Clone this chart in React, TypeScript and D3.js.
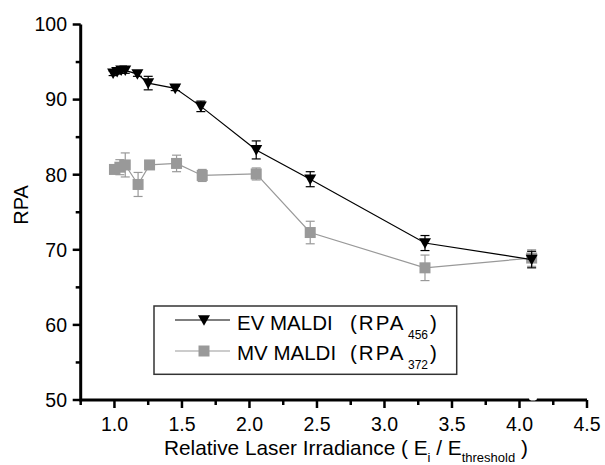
import React from "react";
import * as d3 from "d3";

const evX = [0.99, 1.02, 1.05, 1.08, 1.17, 1.25, 1.45, 1.64, 2.05, 2.45, 3.30, 4.09];
const evY = [93.5, 93.7, 93.9, 93.9, 93.4, 92.2, 91.5, 89.1, 83.3, 79.4, 70.9, 68.7];
const evErr = [0.3, 0.3, 0.4, 0.4, 0.3, 0.9, 0.3, 0.7, 1.2, 1.0, 1.0, 1.1];

const mvX = [1.0, 1.04, 1.08, 1.175, 1.26, 1.46, 1.65, 2.05, 2.45, 3.3, 4.09];
const mvY = [80.7, 81.0, 81.3, 78.7, 81.3, 81.5, 79.9, 80.1, 72.3, 67.6, 68.9];
const mvErr = [0.5, 1.0, 1.6, 1.6, 0.3, 1.1, 0.8, 0.8, 1.5, 1.7, 1.1];

const xMajor = [1.0, 1.5, 2.0, 2.5, 3.0, 3.5, 4.0, 4.5];
const xMinor = [0.75, 1.25, 1.75, 2.25, 2.75, 3.25, 3.75, 4.25];
const yMajor = [50, 60, 70, 80, 90, 100];
const yMinor = [55, 65, 75, 85, 95];

const legendNames = ["EV MALDI", "MV MALDI"];
const legendSubs = ["456", "372"];

const FONT = "'Liberation Sans', Arial, sans-serif";
const GRAY = "#999999";

export default function App() {
  const x = d3.scaleLinear().domain([0.75, 4.5]).range([80.7, 587]);
  const y = d3.scaleLinear().domain([50, 100]).range([400, 24.5]);
  const line = d3.line<[number, number]>().x((d) => x(d[0])).y((d) => y(d[1]));
  const evPts: [number, number][] = evX.map((v, i) => [v, evY[i]]);
  const mvPts: [number, number][] = mvX.map((v, i) => [v, mvY[i]]);
  const tri = "M-6,-4.8L6,-4.8L0,5.8Z";

  return (
    <div style={{ position: "absolute", left: 0, top: 0 }}>
      <svg width={605} height={465} style={{ display: "block", background: "#fff" }} fontFamily={FONT}>
        {/* MV series */}
        <path d={line(mvPts) || ""} fill="none" stroke={GRAY} strokeWidth={1.2} />
        {mvPts.map((p, i) => (
          <g key={"mve" + i} stroke={GRAY} strokeWidth={1.2}>
            <line x1={x(p[0])} x2={x(p[0])} y1={y(p[1] - mvErr[i])} y2={y(p[1] + mvErr[i])} />
            <line x1={x(p[0]) - 4.5} x2={x(p[0]) + 4.5} y1={y(p[1] + mvErr[i])} y2={y(p[1] + mvErr[i])} />
            <line x1={x(p[0]) - 4.5} x2={x(p[0]) + 4.5} y1={y(p[1] - mvErr[i])} y2={y(p[1] - mvErr[i])} />
          </g>
        ))}
        {mvPts.map((p, i) => (
          <rect key={"mvm" + i} x={x(p[0]) - 5.5} y={y(p[1]) - 5.5} width={11} height={11} fill={GRAY} />
        ))}
        {/* EV series */}
        <path d={line(evPts) || ""} fill="none" stroke="#000" strokeWidth={1.2} />
        {evPts.map((p, i) => (
          <g key={"eve" + i} stroke="#000" strokeWidth={1.2}>
            <line x1={x(p[0])} x2={x(p[0])} y1={y(p[1] - evErr[i])} y2={y(p[1] + evErr[i])} />
            <line x1={x(p[0]) - 4.5} x2={x(p[0]) + 4.5} y1={y(p[1] + evErr[i])} y2={y(p[1] + evErr[i])} />
            <line x1={x(p[0]) - 4.5} x2={x(p[0]) + 4.5} y1={y(p[1] - evErr[i])} y2={y(p[1] - evErr[i])} />
          </g>
        ))}
        {evPts.map((p, i) => (
          <path key={"evm" + i} d={tri} transform={`translate(${x(p[0])},${y(p[1])})`} fill="#000" />
        ))}

        {/* Axes */}
        <line x1={x(0.75)} x2={x(4.5)} y1={y(50)} y2={y(50)} stroke="#000" strokeWidth={3} />
        <line x1={x(0.75)} x2={x(0.75)} y1={y(50) + 1.5} y2={y(100)} stroke="#000" strokeWidth={3} />
        <ellipse cx={533} cy={398.5} rx={4} ry={2} fill="#fff" />
        {xMajor.map((t) => (
          <g key={"xM" + t}>
            <line x1={x(t)} x2={x(t)} y1={y(50)} y2={y(50) + 8} stroke="#000" strokeWidth={2.5} />
            <text x={x(t)} y={431} textAnchor="middle" fontSize={19.5}>{d3.format(".1f")(t)}</text>
          </g>
        ))}
        {xMinor.map((t) => (
          <line key={"xm" + t} x1={x(t)} x2={x(t)} y1={y(50)} y2={y(50) + 5} stroke="#000" strokeWidth={2.5} />
        ))}
        {yMajor.map((t) => (
          <g key={"yM" + t}>
            <line x1={x(0.75) - 8} x2={x(0.75)} y1={y(t)} y2={y(t)} stroke="#000" strokeWidth={2.5} />
            <text x={67} y={y(t)} dy="0.35em" textAnchor="end" fontSize={19.5}>{t}</text>
          </g>
        ))}
        {yMinor.map((t) => (
          <line key={"ym" + t} x1={x(0.75) - 5} x2={x(0.75)} y1={y(t)} y2={y(t)} stroke="#000" strokeWidth={2.5} />
        ))}

        {/* Axis titles */}
        <text transform="translate(28,205) rotate(-90)" textAnchor="middle" fontSize={20}>RPA</text>
        <text x={164} y={455} fontSize={20.8} style={{ whiteSpace: "pre" }}>
          Relative Laser Irradiance ( E<tspan fontSize={13} dy={7}>i</tspan>
          <tspan dy={-7}> / E</tspan>
          <tspan fontSize={13} dy={7}>threshold</tspan>
          <tspan dy={-7}> )</tspan>
        </text>

        {/* Legend */}
        <rect x={154} y={306} width={302.7} height={68.3} fill="#fff" stroke="#333" strokeWidth={1.5} />
        {legendNames.map((name, i) => {
          const ly = 320 + i * 31;
          const by = 330 + i * 30;
          return (
            <g key={"lg" + i}>
              <line x1={175} x2={230} y1={ly} y2={ly} stroke={i === 0 ? "#000" : GRAY} strokeWidth={1.2} />
              {i === 0 ? (
                <path d={tri} transform={`translate(204,${ly})`} fill="#000" />
              ) : (
                <rect x={198.5} y={ly - 5.5} width={11} height={11} fill={GRAY} />
              )}
              <text x={237} y={by} fontSize={20.5}>{name}</text>
              <text x={350} y={by} fontSize={20.5} letterSpacing={2}>(RPA</text>
              <text x={408} y={by + 9} fontSize={12}>{legendSubs[i]}</text>
              <text x={430} y={by} fontSize={20.5}>)</text>
            </g>
          );
        })}
      </svg>
    </div>
  );
}
